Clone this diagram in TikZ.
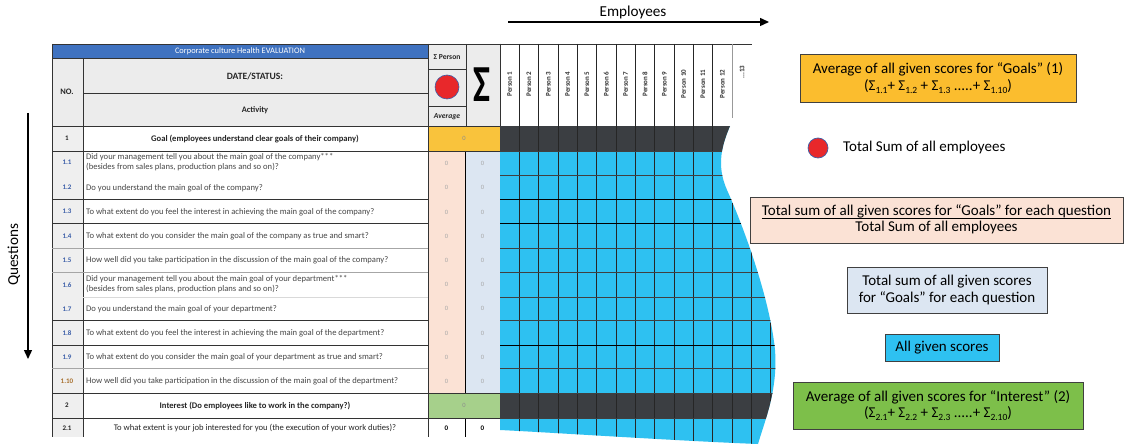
\documentclass[tikz,border=0pt]{standalone}
\usepackage{fontspec}
\setmainfont{Carlito}
\usetikzlibrary{arrows.meta}
\definecolor{titleblue}{HTML}{3F72C0}
\definecolor{hdrgray}{HTML}{ECECEC}
\definecolor{nogray}{HTML}{EFEFEF}
\definecolor{goldcell}{HTML}{F9C33C}
\definecolor{goldbox}{HTML}{FBBD2E}
\definecolor{peach}{HTML}{FBE2D5}
\definecolor{lblue}{HTML}{DCE6F2}
\definecolor{cyanc}{HTML}{2EC1F1}
\definecolor{darkc}{HTML}{3B3E42}
\definecolor{greencell}{HTML}{A6D08B}
\definecolor{greenbox}{HTML}{7DBF4A}
\definecolor{redc}{HTML}{E8282B}
\definecolor{numblue}{HTML}{3B5EA8}
\definecolor{numorange}{HTML}{A8702E}
\newcommand{\sbx}[1]{\raisebox{-3pt}{\fontsize{9.5}{9.5}\selectfont #1}}
\begin{document}
\begin{tikzpicture}[x=1pt,y=-1pt,
  q/.style={anchor=west, inner sep=0, font=\fontsize{8.6}{9.4}\selectfont, text=black!72, align=left},
  qc/.style={inner sep=0, font=\fontsize{8.6}{8.6}\selectfont, text=black!85},
  hd/.style={inner sep=0, font=\bfseries\fontsize{8.4}{8.4}\selectfont, text=black!85},
  num/.style={inner sep=0, font=\bfseries\fontsize{7}{7}\selectfont, text=numblue},
  zero/.style={inner sep=0, font=\fontsize{6.5}{6.5}\selectfont, text=black!35},
  pers/.style={rotate=90, inner sep=0, font=\bfseries\fontsize{7}{7}\selectfont, text=black!80},
  legend/.style={draw=black!75, line width=0.8pt, inner sep=2pt, align=center, font=\fontsize{15}{16.5}\selectfont},
  thk/.style={line width=0.9pt, draw=black!80},
  thn/.style={line width=0.4pt, draw=black!35},
  big/.style={inner sep=0, font=\fontsize{15.2}{15.2}\selectfont}]
\useasboundingbox (0,0) rectangle (1129,446);
\fill[white] (0,0) rectangle (1129,446);

% ---------- axes labels ----------
\node[big] (emp) at (633,12) {Employees};
\coordinate (ea) at (508,22);
\coordinate (eb) at (769,22);
\draw[line width=1.4pt, -{Triangle[length=9pt,width=8pt]}] (ea) -- (eb);
\node[big, rotate=90] (ques) at (14,255) {Questions};
\coordinate (qa) at (28,113);
\coordinate (qb) at (28,359);
\draw[line width=1.4pt, -{Triangle[length=9pt,width=8pt]}] (qa) -- (qb);

% ---------- fills ----------
\fill[titleblue] (52,44) rectangle (428,58);
\fill[hdrgray] (52,58) rectangle (428,126);
\fill[hdrgray] (428,44) rectangle (500,126);
\fill[nogray] (52,126) rectangle (83,437);
\fill[goldcell] (428,126) rectangle (500,151);
\fill[peach] (428,151) rectangle (465,393);
\fill[lblue] (465,151) rectangle (500,393);
\fill[greencell] (428,393) rectangle (500,418);

% ---------- score area with wavy edge ----------
\begin{scope}
\clip (500,126) -- (730,126) .. controls (722,145) and (716,165) .. (727,190)
  .. controls (745,230) and (770,300) .. (775,350)
  .. controls (778,390) and (765,420) .. (758,444)
  .. controls (680,441) and (560,433) .. (500,430) -- cycle;
\fill[cyanc] (500,126) rectangle (800,446);
\fill[darkc] (500,126) rectangle (800,151);
\fill[darkc] (500,393) rectangle (800,418);
\foreach \k in {1,...,14} {
  \draw[line width=0.7pt, black!85] ({500+19.33*\k},126) -- ({500+19.33*\k},446);
}
\foreach \yy in {151,175,199,223,248,272,297,320,345,368,393,418} {
  \draw[line width=0.5pt, black!75] (500,\yy) -- (800,\yy);
}
\foreach \yy in {199,223,345} {
  \draw[line width=0.9pt, black] (500,\yy) -- (800,\yy);
}
\end{scope}

% ---------- header grid ----------
\draw[thk] (52,44) -- (752,44);
\draw[thk] (52,58) -- (428,58);
\draw[thk] (83,93) -- (428,93);
\draw[thk] (428,69) -- (466,69);
\draw[thk] (428,106) -- (466,106);
\draw[thk] (466,44) -- (466,126);
\foreach \k in {0,...,11} {
  \draw[line width=0.6pt, black!85] ({500+19.33*\k},44) -- ({500+19.33*\k},126);
}
\draw[line width=0.6pt, black!40] (732,44) -- (732,118);
\foreach \k in {1,...,12} {
  \node[pers] (p\k) at ({490.3+19.33*\k},84) {Person \k};
}
\node[pers] (p13) at (742,72) {...13};

\node[inner sep=0, font=\fontsize{8.4}{8.4}\selectfont, text=white] (title) at (240,51) {Corporate culture Health EVALUATION};
\node[hd] (no) at (67,92) {NO.};
\node[hd, font=\bfseries\fontsize{9.6}{9.6}\selectfont] (date) at (255,76) {DATE/STATUS:};
\node[hd] (act) at (255,110) {Activity};
\node[hd, font=\bfseries\fontsize{7.6}{7.6}\selectfont] (sp) at (447,57) {Σ Person};
\node[circle, fill=redc, draw=numblue, line width=0.6pt, minimum size=24pt, inner sep=0] (dot1) at (447,87) {};
\node[hd, font=\bfseries\itshape\fontsize{7.6}{7.6}\selectfont] (av) at (447,117) {Average};
\node[inner sep=0, font=\bfseries\fontsize{40}{40}\selectfont, yscale=1.3, xscale=0.9] (sig) at (482,85) {Σ};

% ---------- body grid ----------
\draw[thk] (52,44) -- (52,437);
\draw[thk] (83,58) -- (83,437);
\draw[thk] (428,44) -- (428,437);
\draw[line width=0.9pt, black] (465,151) -- (465,393);
\draw[line width=0.9pt, black] (465,418) -- (465,437);
\draw[thk] (500,44) -- (500,126);
\draw[thk] (52,126) -- (500,126);
\draw[thk] (52,151) -- (500,151);
\foreach \yy in {199,223,320,345} { \draw[thk] (52,\yy) -- (428,\yy); }
\foreach \yy in {248,272,368} { \draw[thn] (52,\yy) -- (428,\yy); }
\draw[line width=0.3pt, black!15] (83,297) -- (428,297);
\draw[thk] (52,393) -- (500,393);
\draw[thk] (52,418) -- (500,418);

% ---------- row numbers ----------
\node[num, text=black!85] (n1) at (67,138) {1};
\node[num] (n11) at (67,162) {1.1};
\node[num] (n12) at (67,187) {1.2};
\node[num] (n13) at (67,211) {1.3};
\node[num] (n14) at (67,236) {1.4};
\node[num] (n15) at (67,260) {1.5};
\node[num] (n16) at (67,285) {1.6};
\node[num] (n17) at (67,309) {1.7};
\node[num] (n18) at (67,333) {1.8};
\node[num] (n19) at (67,357) {1.9};
\node[num, text=numorange] (n110) at (67,381) {1.10};
\node[num, text=black!85] (n2) at (67,405) {2};
\node[num, text=black!85] (n21) at (67,428) {2.1};

% ---------- row texts ----------
\node[qc, font=\bfseries\fontsize{8.6}{8.6}\selectfont] (t1) at (255,139) {Goal (employees understand clear goals of their company)};
\node[q] (t11) at (86,162) {Did your management tell you about the main goal of the company***\\(besides from sales plans, production plans and so on)?};
\node[q] (t12) at (86,188) {Do you understand the main goal of the company?};
\node[q] (t13) at (86,212) {To what extent do you feel the interest in achieving the main goal of the company?};
\node[q] (t14) at (86,236) {To what extent do you consider the main goal of the company as true and smart?};
\node[q] (t15) at (86,260) {How well did you take participation in the discussion of the main goal of the company?};
\node[q] (t16) at (86,284) {Did your management tell you about the main goal of your department***\\(besides from sales plans, production plans and so on)?};
\node[q] (t17) at (86,309) {Do you understand the main goal of your department?};
\node[q] (t18) at (86,333) {To what extent do you feel the interest in achieving the main goal of the department?};
\node[q] (t19) at (86,357) {To what extent do you consider the main goal of your department as true and smart?};
\node[q] (t110) at (86,381) {How well did you take participation in the discussion of the main goal of the department?};
\node[qc, font=\bfseries\fontsize{8.6}{8.6}\selectfont] (t2) at (255,406) {Interest (Do employees like to work in the company?)};
\node[qc] (t21) at (255,428) {To what extent is your job interested for you (the execution of your work duties)?};

% ---------- zeros ----------
\node[zero, text=black!45] (z1) at (464,138) {0};
\foreach \yy [count=\i] in {163,187,212,236,260,284,308,333,357,381} {
  \node[zero] (za\i) at (446.5,\yy) {0};
  \node[zero] (zb\i) at (482.5,\yy) {0};
}
\node[zero, text=black!45] (z2) at (464,405) {0};
\node[zero, text=black, font=\bfseries\fontsize{7}{7}\selectfont] (z21a) at (446.5,428) {0};
\node[zero, text=black, font=\bfseries\fontsize{7}{7}\selectfont] (z21b) at (482.5,428) {0};

% ---------- legend ----------
\node[legend, fill=goldbox, minimum width=276pt, minimum height=48pt] (lg1) at (938,78)
  {Average of all given scores for “Goals” (1)\\(Σ\sbx{1.1}+ Σ\sbx{1.2} + Σ\sbx{1.3} .....+ Σ\sbx{1.10})};
\node[circle, fill=redc, draw=numblue, line width=0.7pt, minimum size=20pt, inner sep=0] (lgdot) at (818,148) {};
\node[inner sep=0, anchor=west, font=\fontsize{15}{16.5}\selectfont] (lgdottxt) at (843,148) {Total Sum of all employees};
\node[legend, fill=peach, minimum width=373pt, minimum height=46pt, inner sep=1pt] (lg2) at (936.5,220)
  {\begin{tabular}{@{}c@{}}Total sum of all given scores for “Goals” for each question\\[-2pt]\hline\rule{0pt}{13pt}Total Sum of all employees\end{tabular}};
\node[legend, fill=lblue, minimum width=200pt, minimum height=46pt] (lg3) at (947,290)
  {Total sum of all given scores\\for “Goals” for each question};
\node[legend, fill=cyanc, minimum width=114pt, minimum height=27pt] (lg4) at (942,347.5) {All given scores};
\node[legend, fill=greenbox, minimum width=290pt, minimum height=47pt] (lg5) at (938,405.5)
  {Average of all given scores for “Interest” (2)\\(Σ\sbx{2.1}+ Σ\sbx{2.2} + Σ\sbx{2.3} .....+ Σ\sbx{2.10})};
\end{tikzpicture}
\end{document}
